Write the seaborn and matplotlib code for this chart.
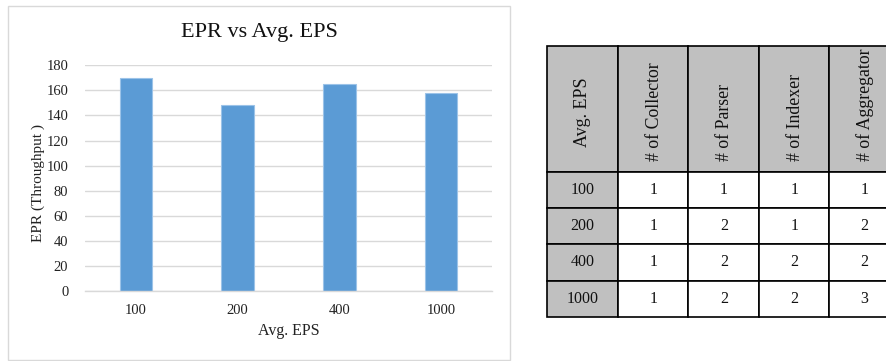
import matplotlib
matplotlib.use("Agg")
import matplotlib.pyplot as plt
import seaborn as sns
import pandas as pd
from matplotlib.patches import Rectangle

# Throughput per average event rate
eps_levels = ["100", "200", "400", "1000"]
epr_values = [170, 148, 165, 158]
y_ticks = [0, 20, 40, 60, 80, 100, 120, 140, 160, 180]

# Component counts for each event rate
table_header = ["Avg. EPS", "# of Collector", "# of Parser", "# of Indexer", "# of Aggregator"]
collectors = [1, 1, 1, 1]
parsers = [1, 2, 2, 2]
indexers = [1, 1, 2, 2]
aggregators = [1, 2, 2, 3]

sns.set_theme(style="white")
plt.rcParams["font.family"] = ["Liberation Serif", "DejaVu Serif"]

W, H = 887, 361
fig = plt.figure(figsize=(W / 100, H / 100), dpi=100)
fig.patch.set_facecolor("white")

def fx(px):
    return px / W

def fy(py):
    return 1 - py / H

# chart panel frame
fig.patches.append(Rectangle((fx(8), fy(360)), fx(502), 354 / H, transform=fig.transFigure,
                             fill=False, edgecolor="#d9d9d9", linewidth=1))

ax = fig.add_axes([fx(85), fy(291), fx(407), 225.7 / H])
df = pd.DataFrame({"eps": eps_levels, "epr": epr_values})
sns.barplot(data=df, x="eps", y="epr", ax=ax, color="#5b9bd5", saturation=1,
            width=0.32, edgecolor="#9cc3e8", linewidth=0.8)
ax.set_ylim(0, 180)
ax.set_xlim(-0.5, 3.5)
ax.set_yticks(y_ticks)
ax.grid(axis="y", color="#d9d9d9", linewidth=1)
ax.set_axisbelow(True)
for side in ["left", "right", "top"]:
    ax.spines[side].set_visible(False)
ax.spines["bottom"].set_color("#d9d9d9")
ax.spines["bottom"].set_linewidth(1)
ax.tick_params(axis="both", length=0, labelsize=10.5, colors="#222222")
ax.tick_params(axis="x", pad=9)
ax.tick_params(axis="y", pad=12)
ax.set_xlabel("Avg. EPS", fontsize=11.5, color="#222222", labelpad=5)
ax.set_ylabel("EPR (Throughput )", fontsize=11, color="#222222")
ax.yaxis.set_label_coords(-0.098, 0.48)
ax.set_facecolor("white")
fig.text(fx(259), fy(33), "EPR vs Avg. EPS", ha="center", va="center", fontsize=16, color="#111111")

# component table drawn in pixel coordinates
tax = fig.add_axes([0, 0, 1, 1])
tax.set_xlim(0, W)
tax.set_ylim(H, 0)
tax.axis("off")
tax.patch.set_alpha(0)

col_edges = [547, 618.3, 688.3, 759.3, 829.3, 899.3]
row_edges = [46, 171.7, 207.7, 244.3, 280.7, 316.7]
gray = "#c0c0c0"
rows = list(zip(eps_levels, collectors, parsers, indexers, aggregators))

for r in range(5):
    for c in range(5):
        x0, x1 = col_edges[c], col_edges[c + 1]
        y0, y1 = row_edges[r], row_edges[r + 1]
        face = gray if (r == 0 or c == 0) else "white"
        tax.add_patch(Rectangle((x0, y0), x1 - x0, y1 - y0, facecolor=face,
                                edgecolor="black", linewidth=1.2, clip_on=False))
        cx = (x0 + x1) / 2
        if r == 0:
            if c == 0:
                tax.text(cx, (y0 + y1) / 2 + 3, table_header[c], rotation=90, ha="center",
                         va="center", fontsize=13, color="#111111")
            else:
                tax.text(cx + 1, 161, table_header[c], rotation=90, ha="center",
                         va="bottom", fontsize=12.8, color="#111111")
        else:
            tax.text(cx, (y0 + y1) / 2, str(rows[r - 1][c]), ha="center", va="center",
                     fontsize=11.5, color="#111111")

fig.savefig("out.png", dpi=100, facecolor="white")
